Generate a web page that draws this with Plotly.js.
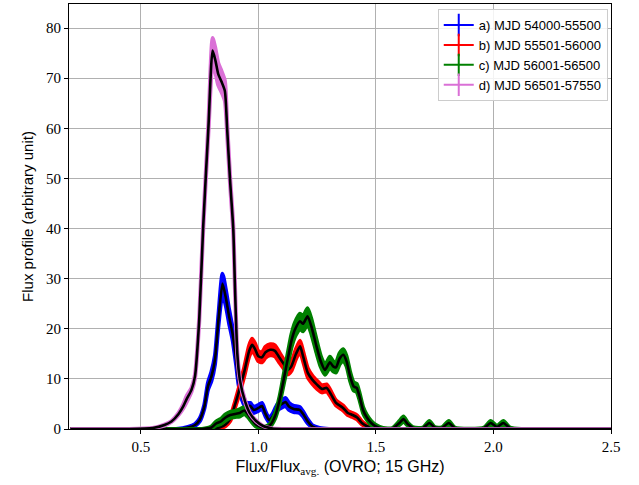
<!DOCTYPE html>
<html>
<head>
<meta charset="utf-8">
<script src="https://cdn.plot.ly/plotly-3.0.1.min.js"></script>
<style>html,body{margin:0;padding:0;background:#fff;}#chart{width:639px;height:485px;}</style>
</head>
<body>
<div id="chart"></div>
<script>
// Series labels and colours
var seriesNames = ["a) MJD 54000-55500", "b) MJD 55501-56000", "c) MJD 56001-56500", "d) MJD 56501-57550"];
var seriesColors = ["#0000ff", "#ff0000", "#008000", "#da70d6"];

// a) MJD 54000-55500
var xA = [0.20, 0.60, 0.65, 0.70, 0.73, 0.75, 0.77, 0.785, 0.80, 0.815, 0.83, 0.847, 0.862, 0.875, 0.89, 0.905, 0.915, 0.93, 0.95, 0.965, 0.98, 1.00, 1.015, 1.03, 1.045, 1.06, 1.08, 1.10, 1.115, 1.13, 1.15, 1.175, 1.19, 1.21, 1.23, 1.26, 1.30, 1.60, 2.00, 2.50];
var yA = [0, 0, 0, 0.3, 0.8, 1.8, 4.5, 8.5, 10.5, 13.8, 21.8, 29.0, 26.0, 22.5, 19.0, 13.8, 9.8, 6.5, 4.6, 4.6, 3.8, 4.2, 4.6, 3.0, 1.8, 2.5, 4.3, 5.0, 5.4, 4.5, 4.0, 3.8, 3.0, 1.5, 0.5, 0.1, 0, 0, 0, 0];
var eA = [0, 0, 0, 0.1, 0.2, 0.3, 0.4, 0.7, 0.9, 0.9, 1.1, 2.0, 1.6, 1.4, 1.2, 1.0, 0.8, 0.7, 0.6, 0.6, 0.6, 0.6, 0.6, 0.5, 0.4, 0.5, 0.6, 0.7, 0.8, 0.7, 0.6, 0.6, 0.5, 0.4, 0.2, 0.1, 0, 0, 0, 0];

// b) MJD 55501-56000
var xB = [0.20, 0.60, 0.80, 0.84, 0.86, 0.88, 0.90, 0.92, 0.94, 0.96, 0.973, 0.985, 1.00, 1.015, 1.03, 1.05, 1.07, 1.09, 1.11, 1.125, 1.14, 1.16, 1.177, 1.19, 1.21, 1.23, 1.25, 1.27, 1.29, 1.31, 1.33, 1.36, 1.38, 1.40, 1.42, 1.44, 1.46, 1.50, 1.55, 2.00, 2.50];
var yB = [0, 0, 0, 0.4, 0.9, 2.0, 4.8, 8.0, 11.5, 15.5, 16.8, 16.0, 14.5, 14.3, 15.3, 15.8, 15.6, 14.2, 12.8, 11.8, 12.5, 15.0, 16.5, 14.5, 11.2, 9.8, 8.8, 8.0, 8.2, 6.8, 5.2, 4.2, 3.2, 2.8, 2.3, 1.2, 0.6, 0.1, 0, 0, 0];
var eB = [0, 0, 0, 0.2, 0.3, 0.4, 0.6, 0.8, 0.9, 1.1, 1.2, 1.1, 1.0, 1.0, 1.1, 1.1, 1.1, 1.0, 0.9, 0.9, 0.9, 1.0, 1.1, 1.0, 0.9, 0.8, 0.8, 0.7, 0.7, 0.6, 0.5, 0.5, 0.4, 0.4, 0.4, 0.3, 0.2, 0.1, 0, 0, 0];

// c) MJD 56001-56500
var xC = [0.20, 0.60, 0.76, 0.80, 0.82, 0.84, 0.86, 0.88, 0.90, 0.92, 0.94, 0.955, 0.97, 0.99, 1.01, 1.03, 1.05, 1.07, 1.09, 1.11, 1.127, 1.14, 1.155, 1.177, 1.19, 1.209, 1.225, 1.247, 1.265, 1.283, 1.304, 1.318, 1.33, 1.345, 1.361, 1.375, 1.39, 1.405, 1.418, 1.43, 1.445, 1.46, 1.48, 1.50, 1.53, 1.57, 1.60, 1.617, 1.635, 1.66, 1.70, 1.727, 1.75, 1.78, 1.81, 1.835, 1.90, 1.96, 1.988, 2.015, 2.042, 2.07, 2.12, 2.50];
var yC = [0, 0, 0, 0.3, 1.1, 1.5, 2.3, 2.8, 3.0, 3.2, 3.7, 3.0, 2.0, 0.9, 0.4, 0.3, 0.8, 2.5, 5.8, 10.5, 14.5, 17.5, 19.8, 21.5, 21.0, 22.5, 20.5, 16.5, 13.5, 11.8, 13.3, 12.5, 12.3, 14.0, 14.8, 13.5, 10.5, 8.5, 8.2, 6.5, 3.8, 2.4, 1.2, 0.5, 0.1, 0.1, 1.2, 2.0, 1.0, 0.2, 0.2, 1.2, 0.3, 0.2, 1.2, 0.2, 0.05, 0.2, 1.2, 0.4, 1.2, 0.2, 0, 0];
var eC = [0, 0, 0, 0.2, 0.4, 0.5, 0.6, 0.6, 0.6, 0.7, 0.7, 0.6, 0.5, 0.4, 0.2, 0.2, 0.3, 0.5, 0.7, 1.0, 1.2, 1.3, 1.4, 1.5, 1.5, 1.6, 1.5, 1.3, 1.1, 1.0, 1.1, 1.0, 1.0, 1.1, 1.1, 1.0, 0.9, 0.8, 0.8, 0.7, 0.6, 0.5, 0.4, 0.3, 0.1, 0.1, 0.4, 0.5, 0.3, 0.1, 0.1, 0.4, 0.1, 0.1, 0.4, 0.1, 0, 0.1, 0.4, 0.2, 0.4, 0.1, 0, 0];

// d) MJD 56501-57550
var xD = [0.20, 0.45, 0.55, 0.60, 0.63, 0.66, 0.68, 0.695, 0.715, 0.73, 0.748, 0.765, 0.787, 0.805, 0.817, 0.829, 0.843, 0.857, 0.867, 0.879, 0.893, 0.90, 0.91, 0.921, 0.943, 0.964, 0.99, 1.02, 1.06, 1.10, 1.50, 2.00, 2.50];
var yD = [0, 0, 0.2, 0.8, 1.5, 3.0, 4.5, 6.0, 7.8, 10.5, 21.8, 40.5, 60.0, 75.5, 73.5, 70.8, 69.3, 67.5, 59.8, 49.8, 39.8, 28.5, 15.1, 9.8, 5.5, 3.1, 1.6, 0.6, 0.1, 0, 0, 0, 0];
var eD = [0, 0, 0, 0.1, 0.1, 0.2, 0.4, 0.6, 0.4, 0.4, 0.5, 0.7, 1.0, 2.5, 2.4, 2.2, 2.1, 2.0, 1.2, 0.8, 0.7, 0.6, 0.4, 0.3, 0.2, 0.1, 0.1, 0, 0, 0, 0, 0, 0];

// Axis ticks
var xTicks = [0.5, 1.0, 1.5, 2.0, 2.5];
var xTickText = ["0.5", "1.0", "1.5", "2.0", "2.5"];
var yTicks = [0, 10, 20, 30, 40, 50, 60, 70, 80];

var xs = [xA, xB, xC, xD];
var ys = [yA, yB, yC, yD];
var es = [eA, eB, eC, eD];

var traces = [];
for (var s = 0; s < 4; s++) {
  var x = xs[s], y = ys[s], e = es[s];
  var bx = [], by = [];
  for (var i = 0; i < x.length; i++) { bx.push(x[i]); by.push(y[i] + e[i]); }
  for (var j = x.length - 1; j >= 0; j--) { bx.push(x[j]); by.push(y[j] - e[j]); }
  traces.push({
    x: bx, y: by, type: "scatter", mode: "lines",
    fill: "toself", fillcolor: seriesColors[s],
    line: {color: seriesColors[s], width: 4, shape: "spline", smoothing: 0.6},
    showlegend: false, hoverinfo: "skip"
  });
  traces.push({
    x: x, y: y, type: "scatter", mode: "lines",
    line: {color: "#000000", width: 2.6, shape: "spline", smoothing: 0.6},
    showlegend: false
  });
}
// legend entries (errorbar style: line with a vertical cross bar)
for (var k = 0; k < 4; k++) {
  traces.push({
    x: [null], y: [null], type: "scatter", mode: "lines+markers",
    name: seriesNames[k],
    line: {color: seriesColors[k], width: 2},
    marker: {symbol: "line-ns-open", size: 16, color: seriesColors[k], line: {color: seriesColors[k], width: 2}},
    showlegend: true
  });
}

var sans = "Liberation Sans, DejaVu Sans, sans-serif";
var serif = "Liberation Serif, DejaVu Serif, serif";

var layout = {
  width: 639, height: 485,
  margin: {l: 69, r: 28, t: 4, b: 56, pad: 0},
  paper_bgcolor: "#ffffff", plot_bgcolor: "#ffffff",
  showlegend: true,
  legend: {
    x: 0.994, y: 0.988, xanchor: "right", yanchor: "top",
    bgcolor: "rgba(255,255,255,0.85)", bordercolor: "#cccccc", borderwidth: 1,
    font: {family: sans, size: 13, color: "#000"},
    itemwidth: 30, tracegroupgap: 0
  },
  xaxis: {
    range: [0.194, 2.5], tickvals: xTicks, ticktext: xTickText,
    showgrid: true, gridcolor: "#b0b0b0", gridwidth: 1,
    showline: true, linecolor: "#000", linewidth: 1, mirror: true,
    ticks: "outside", ticklen: 4, tickcolor: "#000", tickwidth: 1,
    tickfont: {family: serif, size: 15, color: "#000"},
    zeroline: false,
    title: {text: "Flux/Flux<sub><span style=\"font-family:Liberation Serif\">avg.</span></sub> (OVRO; 15 GHz)", font: {family: sans, size: 16, color: "#000"}, standoff: 6}
  },
  yaxis: {
    range: [0, 84.8], tickvals: yTicks,
    showgrid: true, gridcolor: "#b0b0b0", gridwidth: 1,
    showline: true, linecolor: "#000", linewidth: 1, mirror: true,
    ticks: "outside", ticklen: 4, tickcolor: "#000", tickwidth: 1,
    tickfont: {family: serif, size: 15, color: "#000"},
    zeroline: false,
    title: {text: "Flux profile (arbitrary unit)", font: {family: sans, size: 15, color: "#000"}, standoff: 8}
  }
};

Plotly.newPlot("chart", traces, layout, {displayModeBar: false, staticPlot: true});
</script>
</body>
</html>
